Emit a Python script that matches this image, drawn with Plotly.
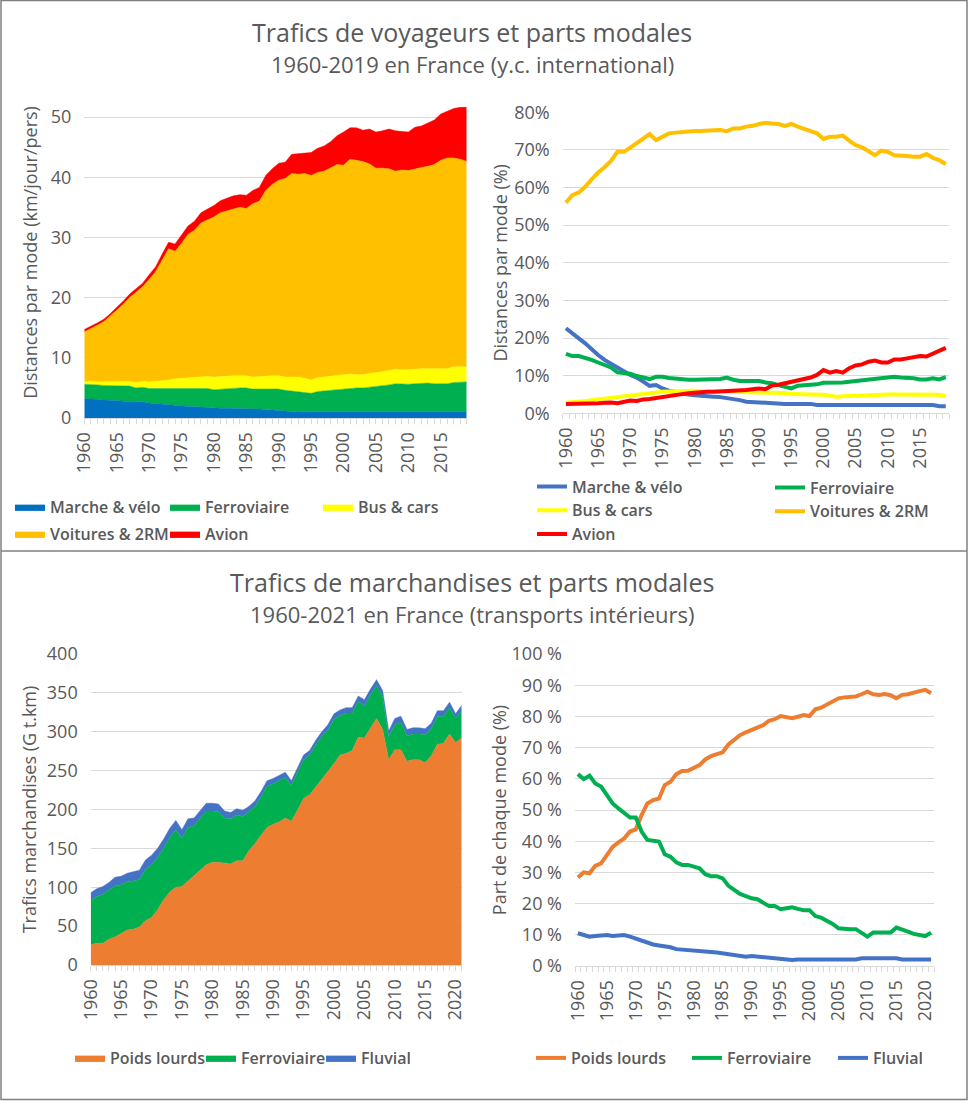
import plotly.graph_objects as go

W, H = 968, 1101
GREY = "#595959"
GRID = "#d9d9d9"
FONT = "Open Sans"

years_pass = list(range(1960, 2020))
years_fret = list(range(1960, 2022))
ticks_pass = list(range(1960, 2020, 5))
ticks_fret = list(range(1960, 2025, 5))

# --- voyageurs : distances par mode (km/jour/pers), 1960-2019
marche_velo = [3.2, 3.2, 3.1, 3.0, 3.0, 2.9, 2.8, 2.8, 2.7, 2.7,
               2.5, 2.4, 2.3, 2.1, 2.1, 2.0, 1.9, 1.9, 1.8, 1.8,
               1.6, 1.6, 1.6, 1.6, 1.6, 1.6, 1.5, 1.5, 1.4, 1.3,
               1.2, 1.1, 1.0, 1.0, 1.1, 1.1, 1.1, 1.1, 1.1, 1.1,
               1.1, 1.1, 1.1, 1.1, 1.1, 1.1, 1.1, 1.1, 1.1, 1.1,
               1.1, 1.1, 1.1, 1.1, 1.1, 1.1, 1.1, 1.1, 1.1, 1.1]
ferro_pass = [2.4, 2.4, 2.4, 2.4, 2.4, 2.5, 2.5, 2.5, 2.3, 2.4,
              2.4, 2.5, 2.5, 2.7, 2.8, 2.9, 3.0, 3.0, 3.0, 3.1,
              3.1, 3.2, 3.2, 3.3, 3.4, 3.4, 3.3, 3.3, 3.4, 3.5,
              3.6, 3.5, 3.5, 3.4, 3.2, 3.0, 3.3, 3.4, 3.6, 3.7,
              3.8, 3.9, 3.9, 3.9, 4.0, 4.1, 4.3, 4.4, 4.6, 4.5,
              4.5, 4.6, 4.7, 4.7, 4.6, 4.6, 4.6, 4.8, 4.8, 4.9]
bus_cars = [0.4, 0.5, 0.5, 0.6, 0.6, 0.7, 0.8, 0.8, 0.9, 1.0,
            1.1, 1.2, 1.3, 1.5, 1.6, 1.7, 1.8, 1.9, 2.0, 2.0,
            2.1, 2.1, 2.1, 2.1, 2.0, 2.0, 2.0, 2.1, 2.1, 2.2,
            2.2, 2.2, 2.3, 2.4, 2.3, 2.2, 2.3, 2.3, 2.3, 2.3,
            2.3, 2.3, 2.2, 2.2, 2.3, 2.3, 2.3, 2.4, 2.4, 2.4,
            2.4, 2.4, 2.4, 2.4, 2.5, 2.5, 2.5, 2.6, 2.6, 2.5]
voitures = [8.3, 8.7, 9.4, 10.0, 10.9, 11.8, 12.8, 13.9, 15.0, 15.7,
            17.0, 18.2, 20.1, 21.8, 21.2, 22.4, 23.8, 24.4, 25.6, 26.0,
            26.6, 27.2, 27.5, 27.8, 28.0, 27.8, 28.8, 29.1, 30.9, 31.8,
            32.5, 33.0, 33.8, 33.7, 34.0, 34.0, 34.1, 34.2, 34.5, 35.0,
            34.8, 35.7, 35.6, 35.4, 34.8, 34.0, 33.8, 33.5, 32.9, 33.2,
            33.1, 33.3, 33.4, 33.6, 33.9, 34.6, 35.0, 34.7, 34.5, 34.1]
avion = [0.4, 0.4, 0.4, 0.4, 0.4, 0.5, 0.5, 0.6, 0.6, 0.6,
         0.8, 0.8, 1.0, 1.1, 1.2, 1.3, 1.4, 1.5, 1.7, 1.8,
         1.9, 2.0, 2.1, 2.1, 2.1, 2.2, 2.2, 2.3, 2.5, 2.6,
         2.8, 2.7, 3.2, 3.4, 3.5, 3.8, 4.0, 4.2, 4.4, 4.8,
         5.5, 5.2, 5.4, 5.2, 5.8, 6.0, 6.2, 6.6, 6.7, 6.4,
         6.4, 6.9, 6.9, 7.2, 7.4, 7.7, 7.7, 8.2, 8.6, 9.0]

# --- voyageurs : parts modales (%)
pct_marche = [22.6, 21.1, 19.9, 18.6, 17.0, 15.5, 14.2, 13.1, 12.2, 11.2,
              10.2, 9.5, 8.4, 7.3, 7.5, 6.6, 6.0, 5.6, 5.2, 5.0,
              4.8, 4.6, 4.5, 4.4, 4.3, 4.1, 3.9, 3.5, 3.1, 3.0,
              2.9, 2.7, 2.5, 2.5, 2.5, 2.5, 2.5, 2.5, 2.5, 2.2,
              2.2, 2.2, 2.2, 2.2, 2.2, 2.2, 2.2, 2.2, 2.2, 2.2,
              2.2, 2.2, 2.2, 2.2, 2.2, 2.2, 2.2, 2.2, 1.9, 1.9]
pct_ferro_pass = [15.8, 15.2, 15.2, 14.8, 14.2, 13.5, 12.8, 12.2, 10.9, 10.8,
                  10.5, 9.9, 9.5, 9.1, 9.7, 9.7, 9.4, 9.2, 9.0, 8.9,
                  8.9, 8.9, 8.9, 8.9, 9.1, 9.5, 8.9, 8.6, 8.6, 8.6,
                  8.6, 8.2, 8.0, 7.5, 7.1, 6.6, 7.3, 7.4, 7.5, 7.7,
                  8.1, 8.1, 8.2, 8.2, 8.4, 8.6, 8.9, 8.9, 9.3, 9.3,
                  9.5, 9.7, 9.5, 9.5, 9.3, 9.0, 9.0, 9.3, 9.0, 9.6]
pct_bus = [2.8, 2.9, 3.1, 3.3, 3.5, 3.7, 4.0, 4.1, 4.4, 4.6,
           4.9, 5.0, 5.1, 5.3, 5.6, 5.7, 5.8, 5.9, 6.0, 6.0,
           6.0, 5.9, 5.9, 5.8, 5.8, 5.8, 5.7, 5.7, 5.6, 5.6,
           5.5, 5.5, 5.5, 5.6, 5.4, 5.1, 5.1, 5.0, 5.0, 4.9,
           4.9, 4.7, 4.4, 4.5, 4.6, 4.6, 4.6, 4.7, 4.8, 4.9,
           5.0, 5.0, 5.0, 5.0, 5.0, 5.1, 5.0, 5.0, 4.9, 4.6]
pct_voitures = [56.0, 58.0, 58.7, 60.2, 62.2, 64.0, 65.4, 67.1, 69.5, 69.5,
                70.6, 71.9, 73.1, 74.2, 72.6, 73.5, 74.4, 74.6, 74.8, 74.8,
                75.0, 75.0, 75.0, 75.2, 75.3, 75.0, 75.7, 75.7, 76.2, 76.4,
                76.9, 77.2, 77.0, 76.9, 76.4, 76.9, 76.2, 75.6, 75.0, 74.4,
                72.9, 73.5, 73.5, 73.8, 72.5, 71.3, 70.7, 69.8, 68.6, 69.8,
                69.5, 68.6, 68.6, 68.4, 68.2, 68.2, 68.9, 67.9, 67.3, 66.2]
pct_avion = [2.5, 2.5, 2.5, 2.5, 2.6, 2.7, 2.8, 2.9, 2.7, 3.0,
             3.4, 3.3, 3.7, 3.8, 4.1, 4.4, 4.6, 4.8, 5.1, 5.3,
             5.5, 5.6, 5.7, 5.7, 5.8, 5.9, 5.8, 6.0, 6.2, 6.4,
             6.6, 6.4, 7.4, 7.6, 8.0, 8.5, 8.9, 9.2, 9.5, 10.2,
             11.5, 10.8, 11.2, 10.8, 12.0, 12.7, 13.0, 13.7, 14.0, 13.5,
             13.5, 14.3, 14.3, 14.6, 14.9, 15.2, 15.1, 15.9, 16.7, 17.4]

# --- marchandises : trafics (G t.km), 1960-2021
poids_lourds = [26, 28, 28, 33, 36, 40, 45, 46, 49, 57,
                61, 71, 84, 94, 100, 101, 108, 116, 123, 129,
                132, 132, 131, 130, 134, 134, 147, 156, 167, 177,
                181, 184, 189, 185, 199, 214, 219, 229, 238, 249,
                259, 270, 272, 276, 293, 292, 305, 317, 303, 264,
                277, 277, 262, 264, 264, 260, 269, 284, 285, 297,
                286, 292]
ferro_fret = [57, 60, 63, 63, 66, 63, 62, 62, 61, 66,
              68, 67, 66, 70, 74, 62, 69, 63, 66, 69,
              66, 65, 58, 58, 59, 57, 50, 48, 49, 53,
              52, 53, 52, 46, 48, 50, 51, 54, 56, 53,
              57, 51, 52, 48, 46, 41, 42, 42, 42, 30,
              32, 35, 33, 33, 33, 36, 35, 36, 35, 34,
              31, 35]
fluvial = [10, 10, 10, 10, 11, 11, 11, 12, 12, 12,
           12, 12, 12, 12, 12, 11, 11, 10, 10, 10,
           10, 10, 9, 8, 8, 8, 7, 7, 7, 7,
           7, 7, 7, 6, 6, 6, 6, 6, 6, 7,
           7, 7, 7, 7, 7, 8, 8, 8, 8, 7,
           8, 8, 8, 8, 8, 8, 7, 7, 7, 7,
           6, 7]

# --- marchandises : parts modales (%)
pct_poids_lourds = [28.4, 30.0, 29.7, 32.1, 32.9, 35.6, 38.2, 39.6, 40.9, 43.1,
                    43.8, 48.4, 52.1, 53.2, 53.7, 58.0, 59.1, 61.5, 62.5, 62.6,
                    63.4, 64.4, 66.2, 67.3, 67.9, 68.5, 71.0, 72.4, 74.0, 74.9,
                    75.6, 76.4, 77.2, 78.6, 79.1, 80.1, 79.9, 79.4, 79.9, 80.4,
                    80.1, 82.3, 82.8, 83.7, 84.7, 85.8, 86.1, 86.4, 86.4, 87.1,
                    87.9, 87.1, 86.9, 87.2, 86.8, 85.8, 86.9, 87.1, 87.7, 88.1,
                    88.5, 87.4]
pct_ferro_fret = [61.5, 59.9, 61.0, 58.5, 57.5, 54.8, 52.1, 50.5, 49.1, 47.6,
                  47.6, 43.1, 40.4, 40.2, 39.9, 35.8, 35.0, 33.2, 32.4, 32.4,
                  31.8, 31.3, 29.4, 28.8, 28.8, 28.1, 25.7, 24.4, 23.1, 22.4,
                  21.7, 21.4, 20.3, 19.2, 19.2, 18.2, 18.5, 18.8, 18.3, 17.9,
                  17.9, 16.0, 15.5, 14.5, 13.5, 12.1, 11.8, 11.8, 11.8, 10.7,
                  9.4, 10.7, 10.7, 10.7, 10.7, 12.3, 11.5, 11.0, 10.3, 9.9,
                  9.6, 10.7]
pct_fluvial = [10.5, 9.9, 9.4, 9.6, 9.9, 9.9, 9.6, 9.9, 9.9, 9.4,
               8.7, 8.0, 7.5, 6.9, 6.6, 6.4, 6.0, 5.4, 5.3, 5.1,
               5.0, 4.8, 4.8, 4.5, 4.3, 4.0, 3.7, 3.4, 3.0, 3.0,
               3.2, 3.0, 2.8, 2.5, 2.2, 2.2, 2.1, 1.9, 2.1, 2.1,
               2.1, 2.1, 2.1, 2.1, 2.1, 2.1, 2.1, 2.1, 2.1, 2.5,
               2.5, 2.5, 2.5, 2.5, 2.5, 2.5, 2.1, 2.1, 2.1, 2.1,
               2.1, 2.1]


def px(x):
    return x / W


def py(y):
    return 1 - y / H


fig = go.Figure()

# aires empilées voyageurs
for name, vals, col, leg in [
        ("Marche & vélo", marche_velo, "#0070C0", "legend"),
        ("Ferroviaire", ferro_pass, "#00B050", "legend2"),
        ("Bus & cars", bus_cars, "#FFFF00", "legend3"),
        ("Voitures & 2RM", voitures, "#FFC000", "legend"),
        ("Avion", avion, "#FF0000", "legend2")]:
    fig.add_trace(go.Scatter(x=years_pass, y=vals, name=name, mode="lines",
                             stackgroup="pass", line=dict(color=col, width=0.5),
                             fillcolor=col, xaxis="x", yaxis="y", legend=leg,
                             legendgroup="pass_" + name))

# parts modales voyageurs
for name, vals, col, leg in [
        ("Marche & vélo", pct_marche, "#4472C4", "legend4"),
        ("Ferroviaire", pct_ferro_pass, "#00B050", "legend5"),
        ("Bus & cars", pct_bus, "#FFFF00", "legend4"),
        ("Voitures & 2RM", pct_voitures, "#FFC000", "legend5"),
        ("Avion", pct_avion, "#FF0000", "legend4")]:
    fig.add_trace(go.Scatter(x=years_pass, y=vals, name=name, mode="lines",
                             line=dict(color=col, width=4),
                             xaxis="x2", yaxis="y2", legend=leg))

# aires empilées marchandises
for name, vals, col, leg in [("Poids lourds", poids_lourds, "#ED7D31", "legend6"),
                             ("Ferroviaire", ferro_fret, "#00B050", "legend7"),
                             ("Fluvial", fluvial, "#4472C4", "legend8")]:
    fig.add_trace(go.Scatter(x=years_fret, y=vals, name=name, mode="lines",
                             stackgroup="fret", line=dict(color=col, width=0.5),
                             fillcolor=col, xaxis="x3", yaxis="y3", legend=leg))

# parts modales marchandises
for name, vals, col, leg in [("Poids lourds", pct_poids_lourds, "#ED7D31", "legend9"),
                             ("Ferroviaire", pct_ferro_fret, "#00B050", "legend10"),
                             ("Fluvial", pct_fluvial, "#4472C4", "legend11")]:
    fig.add_trace(go.Scatter(x=years_fret, y=vals, name=name, mode="lines",
                             line=dict(color=col, width=4),
                             xaxis="x4", yaxis="y4", legend=leg))

tickfont = dict(family=FONT, size=18, color=GREY)
titlefont = dict(family=FONT, size=18, color=GREY)


def xax(dom, rng, tickvals, minor_vals, anchor):
    return dict(domain=[px(dom[0]), px(dom[1])], range=rng, anchor=anchor,
                tickmode="array", tickvals=tickvals, ticktext=[str(v) for v in tickvals],
                tickangle=-90, tickfont=tickfont, ticks="", showgrid=False,
                showline=True, linecolor=GRID, linewidth=1, zeroline=False,
                ticklabelstandoff=6, automargin=False, fixedrange=True,
                minor=dict(tickmode="array", tickvals=minor_vals, ticks="outside",
                           ticklen=5, tickcolor=GRID, tickwidth=1, showgrid=False))


def yax(dom, rng, dtick, suffix, title, anchor, standoff):
    return dict(domain=[py(dom[0]), py(dom[1])], range=rng, anchor=anchor,
                dtick=dtick, tick0=0, ticksuffix=suffix, tickfont=tickfont,
                showgrid=True, gridcolor=GRID, gridwidth=1, zeroline=False,
                showline=False, ticks="", ticklabelstandoff=12, automargin=False,
                fixedrange=True, title=dict(text=title, font=titlefont, standoff=standoff))


fig.update_layout(
    width=W, height=H, autosize=False,
    margin=dict(l=0, r=0, t=0, b=0, pad=0),
    paper_bgcolor="white", plot_bgcolor="white",
    font=dict(family=FONT, color=GREY),
    xaxis=xax((84.3, 466.7), [1960, 2019], ticks_pass, years_pass, "y"),
    yaxis=yax((418, 86.9), [0, 55], 10, "", "Distances par mode (km/jour/pers)", "x", 8),
    xaxis2=xax((562.7, 949), [1959.5, 2019.5], ticks_pass,
               [v - 0.5 for v in years_pass] + [years_pass[-1] + 0.5], "y2"),
    yaxis2=yax((413.3, 112.3), [0, 80], 10, "%", "Distances par mode (%)", "x2", 1),
    xaxis3=xax((90.7, 461.7), [1960, 2021], ticks_fret, years_fret, "y3"),
    yaxis3=yax((965, 654), [0, 400], 50, "", "Trafics marchandises (G t.km)", "x3", 5),
    xaxis4=xax((575, 934), [1959.5, 2021.5], ticks_fret,
               [v - 0.5 for v in years_fret] + [years_fret[-1] + 0.5], "y4"),
    yaxis4=yax((966, 654), [0, 100], 10, " %", "Part de chaque mode (%)", "x4", 0),
)

legfont = dict(family=FONT, size=16, color=GREY, weight=600)


def leg(x, y, gap=0):
    # x = début de la ligne de légende (texte à +40 px), y = centre vertical
    return dict(orientation="v", x=px(x), y=py(y), xanchor="left", yanchor="middle",
                font=legfont, bgcolor="rgba(0,0,0,0)", borderwidth=0,
                traceorder="grouped" if gap else "normal", tracegroupgap=gap,
                itemclick=False, itemdoubleclick=False)


fig.update_layout(
    legend=leg(10, 520.5, 3.2),
    legend2=leg(165, 520.5, 3.2),
    legend3=leg(318, 507),
    legend4=leg(532, 510.5),
    legend5=leg(770, 499.5),
    legend6=leg(70, 1058),
    legend7=leg(201, 1058),
    legend8=leg(321, 1058),
    legend9=leg(531, 1058),
    legend10=leg(687, 1058),
    legend11=leg(833, 1058),
)

# titres
for text, y, size in [("Trafics de voyageurs et parts modales", 32, 25),
                      ("1960-2019 en France (y.c. international)", 64, 22),
                      ("Trafics de marchandises et parts modales", 582, 25),
                      ("1960-2021 en France (transports intérieurs)", 614, 22)]:
    fig.add_annotation(text=text, x=px(472), y=py(y), xref="paper", yref="paper",
                       xanchor="center", yanchor="middle", showarrow=False,
                       font=dict(family=FONT, size=size, color=GREY))

# cadre et séparation
fig.add_shape(type="rect", xref="paper", yref="paper", x0=px(1), x1=px(967),
              y0=py(1099.5), y1=py(0.5), line=dict(color="#808080", width=1.5))
fig.add_shape(type="line", xref="paper", yref="paper", x0=px(1), x1=px(967),
              y0=py(551), y1=py(551), line=dict(color="#808080", width=1.5))

# la page ne doit pas décaler la figure (marge par défaut du body)
fig.write_html("out.html", config={"displayModeBar": False},
               post_script="document.body.style.margin='0';"
                           "document.documentElement.style.overflow='hidden';")
